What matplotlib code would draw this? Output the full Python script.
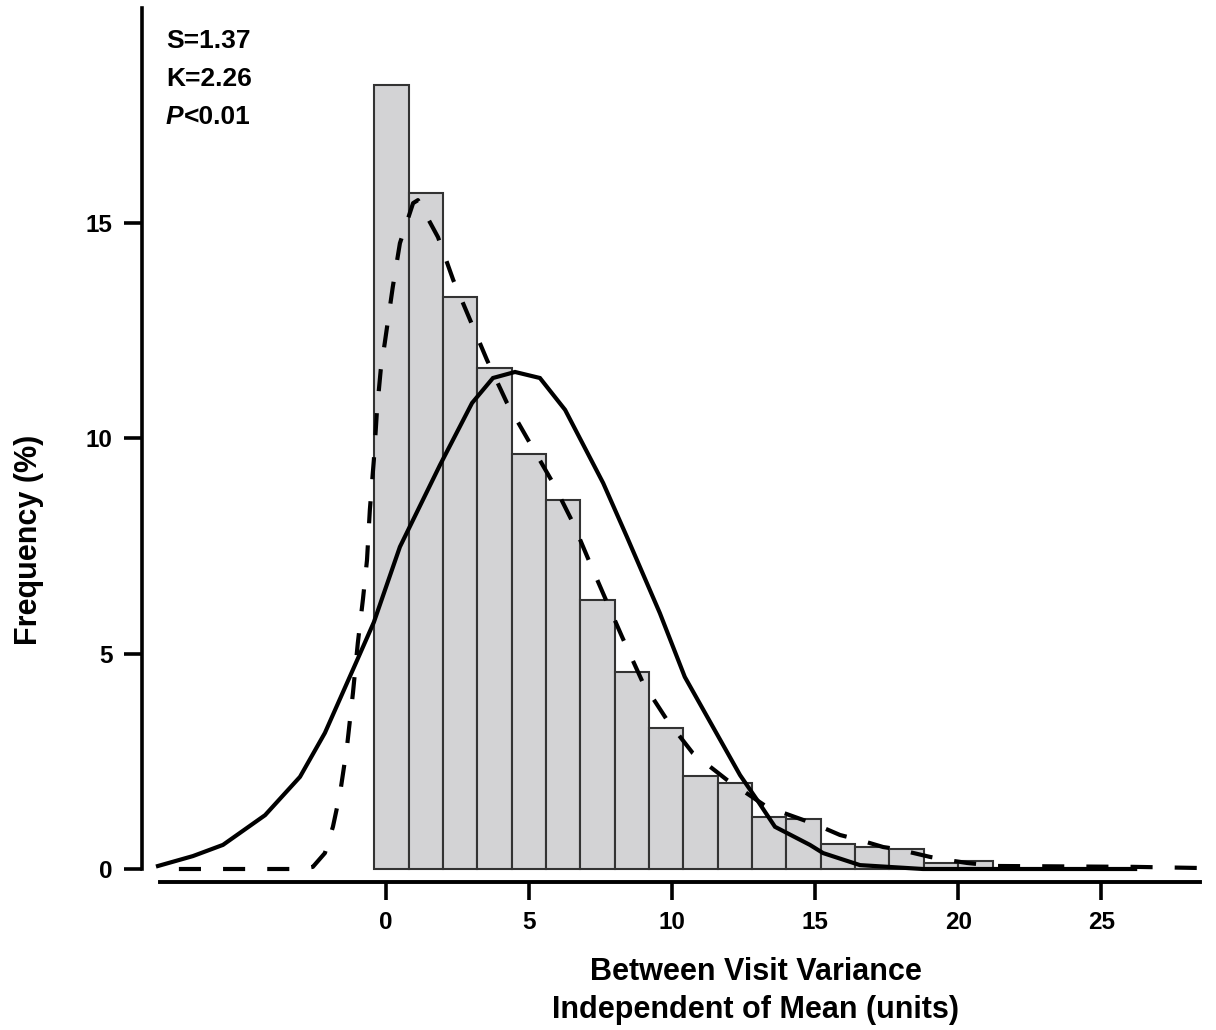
import matplotlib
matplotlib.use("Agg")
import matplotlib.pyplot as plt
import numpy as np

plt.rcParams['font.family'] = ['Liberation Sans', 'DejaVu Sans']
plt.rcParams['font.weight'] = 'bold'

# ---------------- data ----------------
bin_edges = [-0.4, 0.8, 2.0, 3.2, 4.4, 5.6, 6.8, 8.0, 9.2, 10.4, 11.6,
             12.8, 14.0, 15.2, 16.4, 17.6, 18.8, 20.0, 21.2]
freq_pct = [18.20, 15.70, 13.29, 11.64, 9.63, 8.57, 6.25, 4.58, 3.27,
            2.16, 2.00, 1.21, 1.16, 0.58, 0.51, 0.46, 0.14, 0.19]

# fitted normal curve (solid)
normal_x = [-7.95, -6.73, -5.68, -4.21, -2.99, -2.12, -0.90, -0.41, 0.50,
            1.90, 3.02, 3.75, 4.52, 5.39, 6.27, 7.60, 8.43, 9.58, 10.45,
            12.38, 12.98, 13.60, 14.82, 15.28, 16.57, 18.77, 20.17, 26.18]
normal_y = [0.07, 0.30, 0.56, 1.25, 2.14, 3.16, 4.99, 5.73, 7.48,
            9.38, 10.82, 11.40, 11.54, 11.40, 10.66, 8.96, 7.71, 5.94, 4.46,
            2.18, 1.60, 0.98, 0.56, 0.37, 0.09, 0.0, 0.0, 0.0]

# kernel density curve (dashed)
kernel_x = [-7.22, -2.99, -2.54, -2.12, -1.84, -1.59, -1.35, -1.14, -0.97,
            -0.79, -0.65, -0.55, -0.41, -0.30, -0.17, -0.03, 0.25, 0.50, 0.96,
            1.13, 1.83, 2.36, 2.95, 3.54, 4.24, 5.04, 5.85, 6.55, 7.14, 7.74,
            8.26, 8.99, 9.83, 10.73, 11.92, 13.32, 14.58, 15.07, 15.87,
            16.57, 17.38, 17.87, 19.02, 19.61, 20.31, 21.35, 26.11, 28.72]
kernel_y = [0.0, 0.0, 0.05, 0.37, 0.98, 1.76, 2.83, 4.09, 5.25,
            6.27, 7.17, 8.34, 9.50, 10.66, 11.59, 12.21, 13.51, 14.53, 15.46,
            15.53, 14.67, 13.68, 12.75, 11.82, 10.82, 9.89, 8.96, 8.03, 7.10,
            6.18, 5.39, 4.32, 3.46, 2.69, 2.07, 1.44, 1.14, 1.02, 0.79,
            0.67, 0.51, 0.46, 0.28, 0.21, 0.14, 0.07, 0.05, 0.02]

x_ticks = [0, 5, 10, 15, 20, 25]
y_ticks = [0, 5, 10, 15]
stats_lines = ["S=1.37", "K=2.26"]
p_label = ("P", "<0.01")
x_label = "Between Visit Variance\nIndependent of Mean (units)"
y_label = "Frequency (%)"

# ---------------- layout (pixel geometry of the reference) ----------------
W, H = 1216, 1030
X0PX, XS = 385.6, 28.63      # x=0 pixel, pixels per unit
Y0PX, YS = 869.0, 43.07      # y=0 pixel (from top), pixels per unit
AX_L, AX_R, AX_T, AX_B = 100, 1216, 0, 900

def px2x(px):
    return (px - X0PX) / XS

def py2y(py):
    return (Y0PX - py) / YS

fig = plt.figure(figsize=(W / 100, H / 100), dpi=100)
ax = fig.add_axes([AX_L / W, (H - AX_B) / H, (AX_R - AX_L) / W, (AX_B - AX_T) / H])
ax.set_xlim(px2x(AX_L), px2x(AX_R))
ax.set_ylim(py2y(AX_B), py2y(AX_T))
ax.patch.set_alpha(0)

lefts = bin_edges[:-1]
widths = np.diff(bin_edges)
ax.bar(lefts, freq_pct, width=widths, align='edge', color='#d3d3d5',
       edgecolor='#333333', linewidth=1.5, zorder=2)

ax.plot(normal_x, normal_y, color='black', linewidth=3.0, zorder=4,
        solid_joinstyle='miter')
ax.plot(kernel_x, kernel_y, color='black', linewidth=3.0, zorder=4,
        dashes=(5.3, 5.3))

# spines
for s in ('top', 'right'):
    ax.spines[s].set_visible(False)
ax.spines['left'].set_position(('data', px2x(142)))
ax.spines['left'].set_bounds(0, 20)
ax.spines['left'].set_linewidth(2.6)
ax.spines['bottom'].set_position(('data', py2y(882)))
ax.spines['bottom'].set_bounds(px2x(160), px2x(1200))
ax.spines['bottom'].set_linewidth(2.8)

ax.set_xticks(x_ticks)
ax.set_yticks(y_ticks)
ax.set_xticklabels([str(t) for t in x_ticks])
ax.set_yticklabels([str(t) for t in y_ticks])
ax.tick_params(axis='both', direction='out', length=13, width=2.6,
               labelsize=17.5, pad=8)
for lab in ax.get_xticklabels() + ax.get_yticklabels():
    lab.set_fontweight('bold')

# axis labels
fig.text(756 / W, 1 - 991 / H, x_label, ha='center', va='center',
         fontsize=22, fontweight='bold', linespacing=1.32)
fig.text(29 / W, 1 - 540 / H, y_label, ha='center', va='center',
         rotation=90, fontsize=22, fontweight='bold')

# statistics annotation
for i, s in enumerate(stats_lines):
    fig.text(166 / W, 1 - (41 + 38 * i) / H, s, ha='left', va='center',
             fontsize=19, fontweight='bold')
fig.text(166 / W, 1 - 117 / H, p_label[0], ha='left', va='center',
         fontsize=19, fontweight='bold', style='italic')
fig.text(184 / W, 1 - 117 / H, p_label[1], ha='left', va='center',
         fontsize=19, fontweight='bold')

fig.savefig("out.png", dpi=100)
